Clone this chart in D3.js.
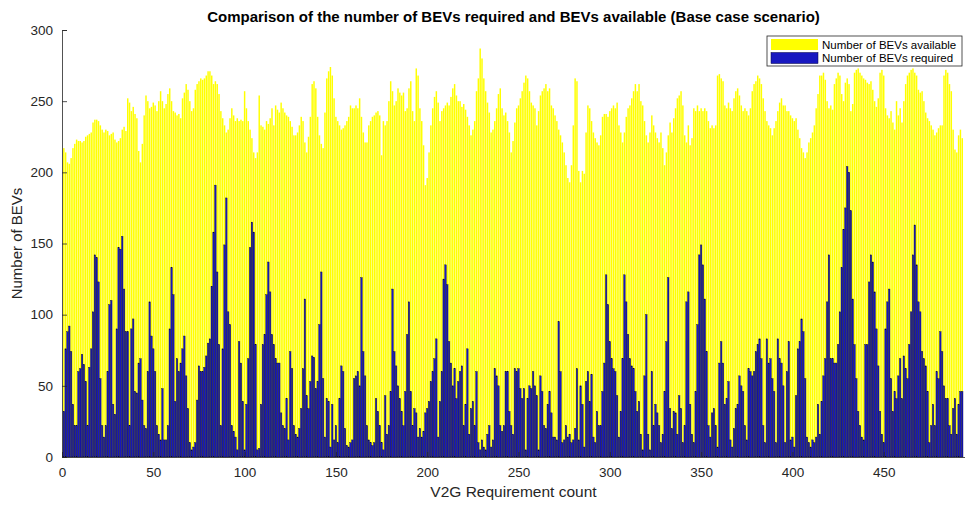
<!DOCTYPE html>
<html>
<head>
<meta charset="utf-8">
<script src="https://cdn.jsdelivr.net/npm/d3@7"></script>
<style>
  body { margin: 0; background: #fff; }
  text { font-family: "Liberation Sans", Arial, Helvetica, sans-serif; fill: #262626; }
</style>
</head>
<body>
<div id="chart-area"></div>
<script>
// values, one bar per V2G requirement (1..493)
var bevsAvailable = [
  217,214,207,206,210,217,220,223,222,222,221,222,225,226,227,228,235,237,237,236,
  233,230,228,230,229,226,227,228,223,221,222,224,230,232,229,252,249,243,246,241,
  238,215,207,220,240,254,250,245,246,249,247,243,250,257,250,245,248,255,259,250,
  243,242,240,241,238,252,256,262,258,250,243,245,258,262,264,266,265,266,268,271,
  271,268,262,264,262,255,243,238,233,228,230,238,245,240,236,238,236,237,236,257,
  245,236,230,224,214,210,214,254,233,232,230,236,234,238,245,233,247,244,242,249,
  245,242,240,239,236,232,226,226,228,233,239,236,221,214,225,239,262,264,259,239,
  226,220,217,242,266,271,274,268,252,239,236,233,230,231,233,236,239,247,245,245,
  247,245,252,239,228,221,221,233,236,239,240,242,243,240,212,236,233,236,250,264,
  257,247,250,259,256,254,256,243,245,259,264,243,236,273,268,245,236,219,191,196,
  214,233,245,253,257,249,236,243,245,247,249,247,253,259,262,254,250,250,246,248,
  244,239,233,226,230,236,257,266,287,280,266,257,249,242,228,230,236,245,255,259,
  245,240,242,236,228,214,222,235,245,247,252,257,263,268,266,257,249,247,245,233,
  243,254,257,259,262,257,259,247,245,240,236,230,226,221,214,205,196,193,205,233,
  266,264,201,193,201,199,228,247,245,236,228,224,221,219,226,239,241,241,239,243,
  245,247,245,249,233,228,221,228,239,245,247,252,257,262,257,262,250,247,236,226,
  221,228,240,233,228,224,221,228,217,205,214,226,235,228,238,245,252,254,257,247,
  226,221,233,219,224,245,243,247,243,245,243,245,243,236,231,233,231,233,268,269,
  266,264,247,245,249,245,243,252,257,259,254,247,243,245,243,240,245,257,262,264,
  268,266,262,252,243,236,233,231,226,231,236,243,249,252,247,247,243,243,240,238,
  236,238,230,224,217,214,210,214,221,224,228,233,245,255,268,268,270,265,250,245,
  247,244,262,266,270,268,255,250,263,266,262,243,248,270,272,273,270,268,266,265,
  263,262,264,258,250,246,252,270,272,268,245,240,238,243,235,230,250,240,245,235,
  250,262,268,270,272,273,270,268,258,256,257,250,242,238,236,233,230,226,228,231,
  233,233,268,272,270,262,257,230,216,214,226,230,224
];

var bevsRequired = [
  32,76,88,92,74,37,22,22,60,62,72,65,53,22,63,76,102,142,140,123,
  55,22,14,22,60,107,110,37,30,90,147,146,155,118,88,88,22,90,97,46,
  45,66,69,40,22,20,60,109,85,76,60,22,16,12,48,12,12,22,90,133,
  114,39,69,60,66,76,85,57,34,10,5,7,10,40,64,60,60,63,71,80,
  83,120,158,191,130,79,22,76,149,182,102,93,22,18,14,5,81,66,39,5,
  37,69,147,165,158,79,5,6,37,79,86,114,137,116,86,79,69,66,66,31,
  22,20,41,12,74,62,22,16,14,20,34,62,111,43,34,53,71,70,48,53,
  93,130,55,14,41,39,7,37,12,22,10,41,64,60,20,8,7,10,12,55,
  57,60,50,126,74,57,22,12,10,8,10,41,32,22,10,5,43,16,22,46,
  118,74,64,50,41,32,22,46,86,109,46,22,34,31,14,20,14,18,31,34,
  39,53,60,69,83,14,39,60,125,135,121,81,66,50,62,41,53,60,64,22,
  37,76,16,34,39,22,60,10,5,12,7,5,16,22,7,12,62,57,50,22,
  18,22,60,60,32,22,16,62,60,62,48,41,48,5,41,50,48,60,50,43,
  5,57,46,22,20,37,46,31,14,14,12,95,60,10,12,22,14,16,10,12,
  20,62,12,50,37,7,53,60,39,58,14,10,32,22,22,46,66,128,107,81,
  69,62,60,43,14,32,69,128,109,86,69,64,62,46,32,39,16,5,57,100,
  16,5,60,22,37,31,22,10,16,46,81,126,34,20,32,31,16,43,34,10,
  22,109,116,37,16,10,46,93,142,149,135,111,74,22,14,31,34,22,7,66,
  81,66,37,41,53,12,7,20,34,37,57,50,46,22,12,62,60,57,60,74,
  79,83,69,22,10,83,66,69,55,46,10,83,69,66,50,10,60,81,12,14,
  7,43,76,81,97,88,55,14,10,7,12,10,14,37,16,39,57,69,109,142,
  69,69,66,66,79,102,133,160,175,204,200,173,111,79,55,32,22,14,12,79,
  79,123,142,137,116,90,64,32,16,10,90,109,118,55,32,46,41,57,69,41,
  71,62,55,79,102,142,163,135,109,102,74,69,64,46,10,22,37,22,60,55,
  88,74,50,41,41,22,16,34,41,16,37,46,46
];

var requirementIds = d3.range(1, bevsAvailable.length + 1);
var xTicks = [0, 50, 100, 150, 200, 250, 300, 350, 400, 450];
var yTicks = [0, 50, 100, 150, 200, 250, 300];
var seriesNames = ["Number of BEVs available", "Number of BEVs required"];

var width = 965, height = 505;
var margin = {top: 30, right: 0, bottom: 48, left: 62};
var plotH = height - margin.top - margin.bottom;   // 427
var plotW = width - margin.left - margin.right;    // 903

var svg = d3.select("#chart-area").append("svg")
  .attr("width", width)
  .attr("height", height);

var g = svg.append("g")
  .attr("transform", "translate(" + margin.left + "," + margin.top + ")");

var x = d3.scaleLinear().domain([0, 494.5]).range([0, plotW]);
var y = d3.scaleLinear().domain([0, 300]).range([plotH, 0]);
var barW = x(0.8) - x(0);

// available (yellow) first, required (blue) drawn on top
g.append("g").selectAll("rect")
  .data(requirementIds)
  .enter()
  .append("rect")
  .attr("x", (d) => x(d) - barW / 2)
  .attr("y", (d, i) => y(bevsAvailable[i]))
  .attr("width", barW)
  .attr("height", (d, i) => plotH - y(bevsAvailable[i]))
  .attr("fill", "#ffff00");

g.append("g").selectAll("rect")
  .data(requirementIds)
  .enter()
  .append("rect")
  .attr("x", (d) => x(d) - barW / 2)
  .attr("y", (d, i) => y(bevsRequired[i]))
  .attr("width", barW)
  .attr("height", (d, i) => plotH - y(bevsRequired[i]))
  .attr("fill", "#1818c0")
  .attr("stroke", "#00003c")
  .attr("stroke-width", 0.4);

// axes, ticks point inward like the original
var bottomAxis = d3.axisBottom(x).tickValues(xTicks).tickSize(-5).tickPadding(10);
g.append("g")
  .attr("class", "bottom axis")
  .attr("transform", "translate(0," + plotH + ")")
  .call(bottomAxis);

var leftAxis = d3.axisLeft(y).tickValues(yTicks).tickSize(-5).tickPadding(9);
g.append("g")
  .attr("class", "left axis")
  .call(leftAxis);

g.selectAll(".axis path").attr("stroke", "#262626").attr("stroke-width", 0.8);
g.selectAll(".axis line").attr("stroke", "#262626").attr("stroke-width", 0.8);
g.selectAll(".axis text")
  .attr("font-size", "13.5px")
  .style("font-family", '"Liberation Sans", Arial, sans-serif')
  .attr("fill", "#262626");

// labels
svg.append("text")
  .attr("x", margin.left + plotW / 2)
  .attr("y", 22)
  .attr("text-anchor", "middle")
  .attr("font-size", "15px")
  .attr("font-weight", "bold")
  .style("fill", "#000")
  .text("Comparison of the number of BEVs required and BEVs available (Base case scenario)");

svg.append("text")
  .attr("x", margin.left + plotW / 2)
  .attr("y", 497)
  .attr("text-anchor", "middle")
  .attr("font-size", "15.5px")
  .text("V2G Requirement count");

svg.append("text")
  .attr("transform", "rotate(-90)")
  .attr("x", -(margin.top + plotH / 2))
  .attr("y", 22)
  .attr("text-anchor", "middle")
  .attr("font-size", "15px")
  .text("Number of BEVs");

// legend
var legend = svg.append("g").attr("transform", "translate(767,36)");
legend.append("rect")
  .attr("width", 195).attr("height", 30)
  .attr("fill", "#fff").attr("stroke", "#262626").attr("stroke-width", 0.8);
var legendColors = ["#ffff00", "#1818c0"];
seriesNames.forEach((name, i) => {
  legend.append("rect")
    .attr("x", 4).attr("y", 3 + i * 13.5)
    .attr("width", 47).attr("height", 11)
    .attr("fill", legendColors[i])
    .attr("stroke", i === 1 ? "#00003c" : "none")
    .attr("stroke-width", 0.5);
  legend.append("text")
    .attr("x", 55).attr("y", 12.5 + i * 13.5)
    .attr("font-size", "11.5px")
    .style("fill", "#000")
    .text(name);
});
</script>
</body>
</html>
